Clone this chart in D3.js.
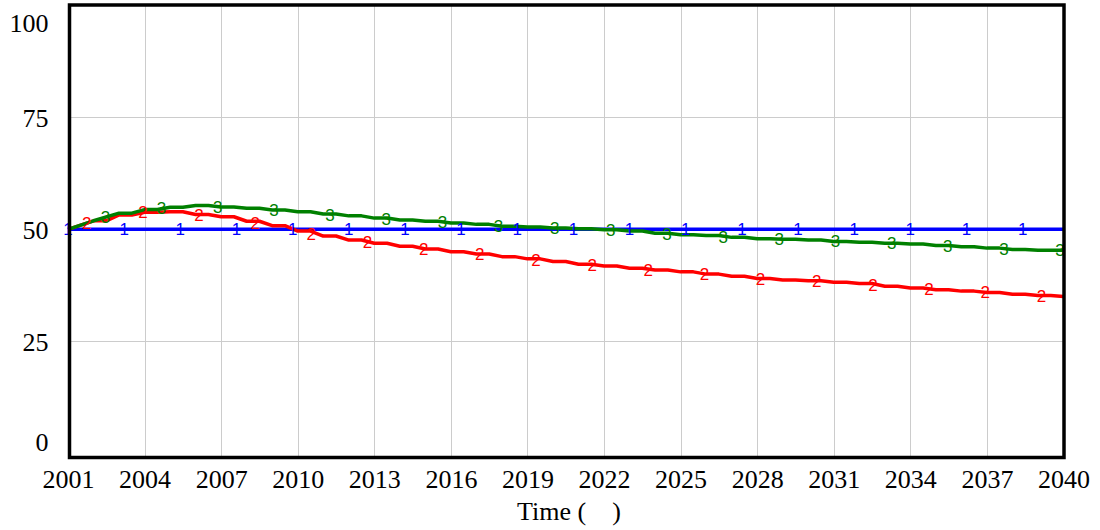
<!DOCTYPE html>
<html>
<head>
<meta charset="utf-8">
<script src="https://cdn.jsdelivr.net/npm/d3@7"></script>
<style>
  html, body { margin: 0; padding: 0; background: #fff; }
  svg { display: block; }
</style>
</head>
<body>
<svg id="chart" width="1100" height="530"></svg>
<script>
// Simulation output, one value per year
const years = d3.range(2001, 2041);

const series1 = [50, 50, 50, 50, 50, 50, 50, 50, 50, 50,
                 50, 50, 50, 50, 50, 50, 50, 50, 50, 50,
                 50, 50, 50, 50, 50, 50, 50, 50, 50, 50,
                 50, 50, 50, 50, 50, 50, 50, 50, 50, 50];

const series2 = [50.0, 51.9, 53.2, 53.8, 53.9, 53.3, 52.8, 51.8, 50.8, 49.6,
                 48.5, 47.6, 46.9, 46.2, 45.6, 45.0, 44.5, 43.9, 43.4, 42.8,
                 42.2, 41.8, 41.3, 40.9, 40.5, 40.0, 39.5, 39.0, 38.7, 38.5,
                 38.2, 37.9, 37.3, 36.9, 36.5, 36.2, 35.9, 35.5, 35.2, 35.0];

const series3 = [50.0, 51.9, 53.6, 54.4, 54.9, 55.3, 55.0, 54.7, 54.3, 53.9,
                 53.4, 53.0, 52.5, 52.1, 51.8, 51.4, 51.1, 50.7, 50.5, 50.3,
                 50.1, 49.9, 49.6, 49.1, 48.8, 48.6, 48.2, 47.9, 47.8, 47.6,
                 47.3, 47.1, 46.9, 46.7, 46.4, 46.1, 45.8, 45.5, 45.3, 45.3];

const yTicks = [0, 25, 50, 75, 100];
const xTicks = [2001, 2004, 2007, 2010, 2013, 2016, 2019, 2022, 2025, 2028, 2031, 2034, 2037, 2040];
const xTitle = "Time (    )";

const seriesList = [
  { id: "1", values: series1, color: "#0000ff", offset: 0 },
  { id: "2", values: series2, color: "#ff0000", offset: 1 },
  { id: "3", values: series3, color: "#008000", offset: 2 }
];

const svg = d3.select("#chart");
const x = d3.scaleLinear().domain([2001, 2040]).range([68, 1063.5]);
const y = d3.scaleLinear().domain([0, 100]).range([453.3, 5.3]);
const frame = { left: 69.5, right: 1064, top: 5, bottom: 457.5 };

// Grid
const grid = svg.append("g").attr("stroke", "#cccccc").attr("stroke-width", 1);
grid.selectAll("line.v").data(xTicks.slice(1, -1)).join("line")
  .attr("x1", d => Math.round(x(d)) + 0.5).attr("x2", d => Math.round(x(d)) + 0.5)
  .attr("y1", frame.top).attr("y2", frame.bottom);
grid.selectAll("line.h").data(yTicks.slice(1, -1)).join("line")
  .attr("x1", frame.left).attr("x2", frame.right)
  .attr("y1", d => Math.round(y(d)) + 0.5).attr("y2", d => Math.round(y(d)) + 0.5);

// Saved-value curve: holds each level, then ramps to the next one
function rampStep(context) {
  let pts = [];
  return {
    lineStart() { pts = []; },
    lineEnd() {
      if (!pts.length) return;
      context.moveTo(pts[0][0], pts[0][1]);
      for (let i = 1; i < pts.length; i++) {
        const [x0, y0] = pts[i - 1], [x1, y1] = pts[i];
        if (Math.abs(y1 - y0) < 6) {
          context.lineTo(x0 + 0.5 * (x1 - x0), y0);
        }
        context.lineTo(x1, y1);
      }
    },
    areaStart() {}, areaEnd() {},
    point(px, py) { pts.push([px, py]); }
  };
}

const line = d3.line()
  .x((d, i) => x(years[i]))
  .y(d => y(d))
  .curve(rampStep);

const lines = svg.append("g").attr("fill", "none").attr("stroke-width", 3.5)
  .attr("stroke-linejoin", "round");
seriesList.forEach(s => {
  lines.append("path").attr("d", line(s.values)).attr("stroke", s.color);
});

// Series number markers along each line
function valueAt(values, t) {
  const i = Math.min(Math.floor(t - 2001), values.length - 2);
  const f = t - 2001 - i;
  return values[i] + (values[i + 1] - values[i]) * f;
}
const markers = svg.append("g")
  .attr("font-family", "'Liberation Sans', Arial, sans-serif")
  .attr("font-size", 17)
  .attr("text-anchor", "middle");
seriesList.forEach(s => {
  const pos = d3.range(18).map(k => 2001 + s.offset * 2.2 / 3 + k * 2.2).filter(t => t <= 2040.01);
  markers.selectAll(null).data(pos).join("text")
    .attr("x", t => x(Math.min(t, 2040)))
    .attr("y", t => y(valueAt(s.values, Math.min(t, 2039.999))) + 6)
    .attr("fill", s.color)
    .text(s.id);
});

// Frame
svg.append("rect")
  .attr("x", frame.left).attr("y", frame.top)
  .attr("width", frame.right - frame.left).attr("height", frame.bottom - frame.top)
  .attr("fill", "none").attr("stroke", "#000").attr("stroke-width", 3.5);

// Axes
const yAxis = svg.append("g")
  .attr("transform", "translate(" + frame.left + ",0)")
  .call(d3.axisLeft(y).tickValues(yTicks).tickSize(0).tickPadding(21));
yAxis.select(".domain").remove();
yAxis.selectAll("text")
  .attr("font-family", "'Liberation Serif', 'Times New Roman', serif")
  .attr("font-size", 26).attr("fill", "#000")
  .attr("dy", d => d === 100 ? "1.0em" : d === 0 ? "-0.1em" : "0.35em");

const xAxis = svg.append("g")
  .attr("transform", "translate(0," + frame.bottom + ")")
  .call(d3.axisBottom(x).tickValues(xTicks).tickFormat(d3.format("d")).tickSize(0).tickPadding(0));
xAxis.select(".domain").remove();
xAxis.selectAll("text")
  .attr("font-family", "'Liberation Serif', 'Times New Roman', serif")
  .attr("font-size", 26).attr("fill", "#000")
  .attr("y", 30.5).attr("dy", 0);

svg.append("text")
  .attr("x", 569).attr("y", 520)
  .attr("text-anchor", "middle")
  .attr("font-family", "'Liberation Serif', 'Times New Roman', serif")
  .attr("font-size", 26)
  .style("white-space", "pre")
  .attr("xml:space", "preserve")
  .text(xTitle);
</script>
</body>
</html>
